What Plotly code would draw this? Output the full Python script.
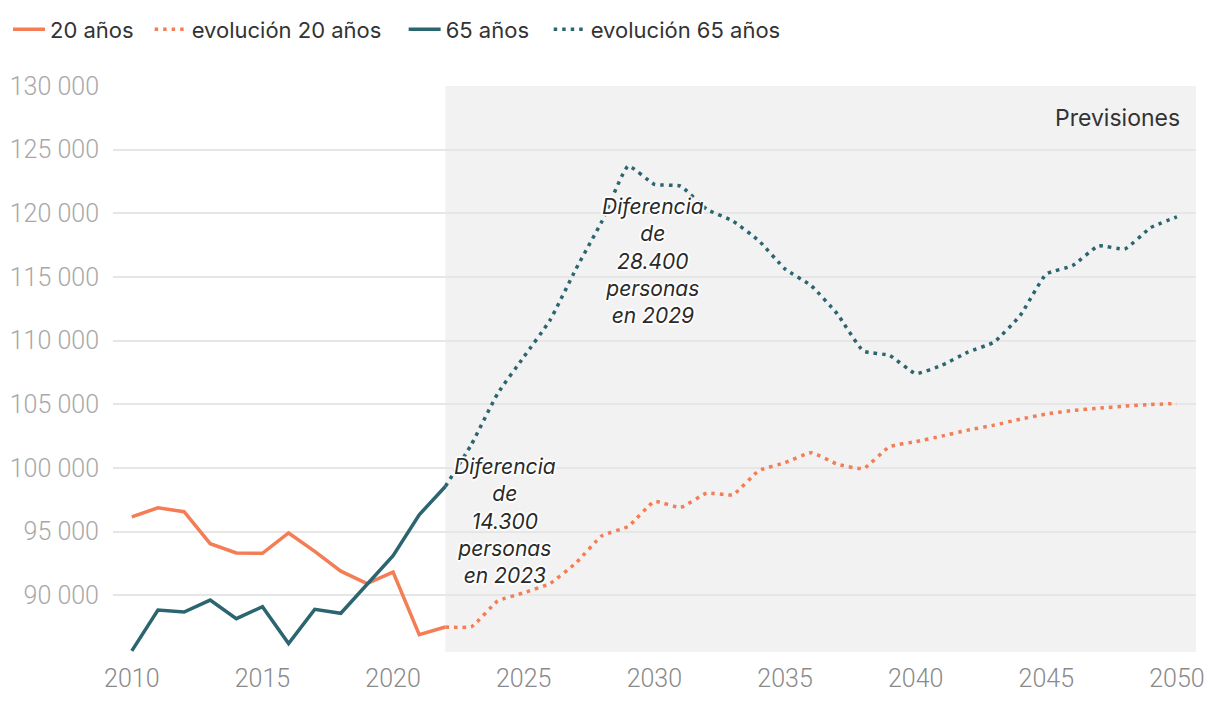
import plotly.graph_objects as go

years_hist = list(range(2010, 2023))
v20_hist = [96150, 96870, 96560, 94050, 93320, 93290, 94890, 93450, 91890, 90920, 91810, 86910, 87500]
v65_hist = [85630, 88830, 88680, 89620, 88160, 89100, 86200, 88890, 88580, 90850, 93110, 96320, 98540]

years_proj = list(range(2022, 2051))
v20_proj = [87500, 87530, 89540, 90190, 90920, 92540, 94680, 95400, 97360, 96890, 98020, 97890,
            99790, 100410, 101200, 100300, 99950, 101670, 102060, 102500, 102970, 103360, 103830,
            104230, 104510, 104690, 104850, 104980, 105060]
v65_proj = [98540, 101850, 105840, 108710, 111580, 115630, 119400, 123710, 122280, 122140, 120320,
            119400, 117840, 115630, 114320, 112100, 109180, 108840, 107410, 108060, 109100, 109880,
            111970, 115230, 115880, 117450, 117190, 118880, 119720]

y_ticks = [90000, 95000, 100000, 105000, 110000, 115000, 120000, 125000, 130000]
y_ticktext = ["90 000", "95 000", "100 000", "105 000", "110 000", "115 000", "120 000", "125 000", "130 000"]
x_ticks = [2010, 2015, 2020, 2025, 2030, 2035, 2040, 2045, 2050]

ORANGE = "#F47D55"
TEAL = "#2B6570"
DOT = "3.5px,5px"

fig = go.Figure()
fig.add_trace(go.Scatter(x=years_hist, y=v20_hist, mode="lines", name="20 años", legend="legend",
                         line=dict(color=ORANGE, width=3.5)))
fig.add_trace(go.Scatter(x=years_proj, y=v20_proj, mode="lines", name="evolución 20 años", legend="legend2",
                         line=dict(color=ORANGE, width=3.5, dash=DOT, shape="spline", smoothing=0.4)))
fig.add_trace(go.Scatter(x=years_hist, y=v65_hist, mode="lines", name="65 años", legend="legend3",
                         line=dict(color=TEAL, width=3.5)))
fig.add_trace(go.Scatter(x=years_proj, y=v65_proj, mode="lines", name="evolución 65 años", legend="legend4",
                         line=dict(color=TEAL, width=3.5, dash=DOT, shape="spline", smoothing=0.4)))

fig.add_shape(type="rect", xref="x", yref="y", x0=2022, x1=2050.73, y0=85540, y1=130000,
              fillcolor="#F2F2F2", line=dict(width=0), layer="below")

halo = ("white 1px 1px 0px, white -1px -1px 0px, white 1px -1px 0px, white -1px 1px 0px, "
        "white 2px 0px 1px, white -2px 0px 1px, white 0px 2px 1px, white 0px -2px 1px")

ann_font = dict(family="Inter, sans-serif", size=21, color="#2A2A2A", style="italic", shadow=halo)
fig.add_annotation(x=2024.3, y=95850, xref="x", yref="y", showarrow=False,
                   text="Diferencia<br>de<br>14.300<br>personas<br>en 2023", font=ann_font, align="center")
fig.add_annotation(x=2029.95, y=116230, xref="x", yref="y", showarrow=False,
                   text="Diferencia<br>de<br>28.400<br>personas<br>en 2029", font=ann_font, align="center")
fig.add_annotation(x=2050.19, y=127465, xref="x", yref="y", showarrow=False, xanchor="right",
                   text="Previsiones",
                   font=dict(family="Inter, sans-serif", size=23, color="#333333"))

leg_common = dict(orientation="h", xref="container", yref="container", y=0.9993,
                  xanchor="left", yanchor="top", font=dict(family="Inter, sans-serif", size=22, color="#333333"),
                  itemwidth=32, bgcolor="rgba(0,0,0,0)")

fig.update_layout(
    width=1220, height=704,
    margin=dict(l=105, r=32, t=78, b=60, autoexpand=False),
    paper_bgcolor="white", plot_bgcolor="white",
    font=dict(family="Inter, sans-serif", size=20, color="#333333"),
    showlegend=True,
    legend=dict(x=-0.0019, **leg_common),
    legend2=dict(x=0.1161, **leg_common),
    legend3=dict(x=0.3243, **leg_common),
    legend4=dict(x=0.4432, **leg_common),
    xaxis=dict(range=[2009.28, 2050.73], tickvals=x_ticks, showgrid=False, zeroline=False,
               showline=False, ticks="", ticklabelstandoff=9, automargin=False,
               tickfont=dict(family="Roboto, sans-serif", size=25, weight=300, color="#8A8A8A")),
    yaxis=dict(range=[85540, 130000], tickvals=y_ticks, ticktext=y_ticktext, showgrid=True,
               gridcolor="#E6E6E6", gridwidth=2, zeroline=False, showline=False, ticks="",
               ticklabelstandoff=13, automargin=False,
               tickfont=dict(family="Roboto, sans-serif", size=25, weight=300, color="#A8A8A8")),
)

fig.write_html("out.html")
